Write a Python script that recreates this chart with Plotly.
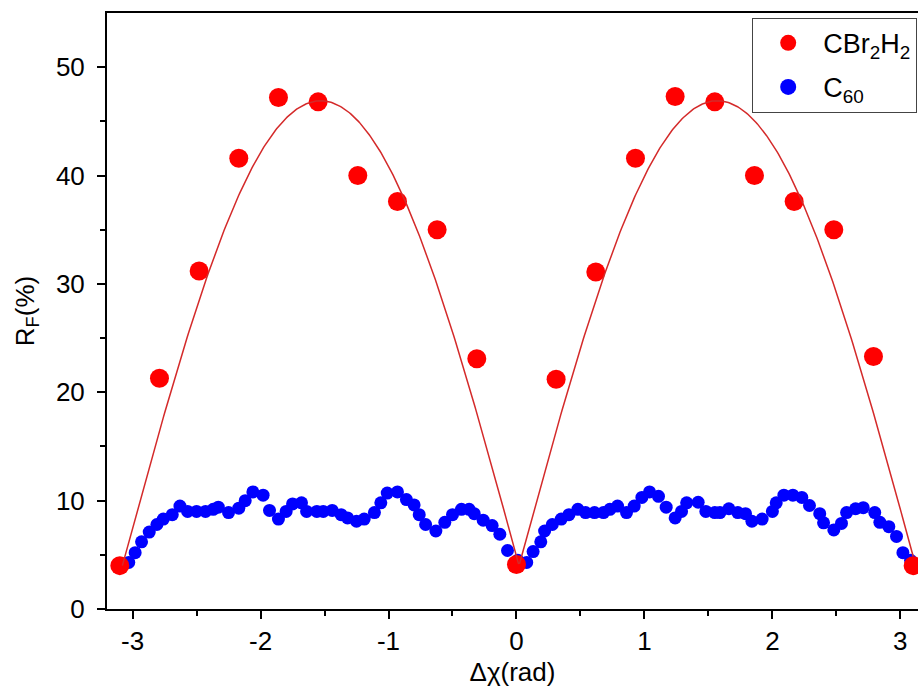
import numpy as np
import plotly.graph_objects as go

# CBr2H2 fluorescence ratio vs. relative phase
cbr_x = [-3.10, -2.79, -2.48, -2.17, -1.86, -1.55, -1.24, -0.93, -0.62, -0.31, 0.0,
         0.31, 0.62, 0.93, 1.24, 1.55, 1.86, 2.17, 2.48, 2.79, 3.10]
cbr_y = [4.0, 21.3, 31.2, 41.6, 47.2, 46.8, 40.0, 37.6, 35.0, 23.1, 4.1,
         21.2, 31.1, 41.6, 47.3, 46.8, 40.0, 37.6, 35.0, 23.3, 4.0]

# C60 fluorescence ratio vs. relative phase
c60_x = [-3.03, -2.98, -2.93, -2.87, -2.81, -2.76, -2.69, -2.63, -2.57, -2.50,
         -2.43, -2.37, -2.33, -2.25, -2.17, -2.12, -2.06, -1.98, -1.93, -1.86,
         -1.80, -1.75, -1.68, -1.64, -1.56, -1.51, -1.44, -1.37, -1.32, -1.25,
         -1.19, -1.11, -1.06, -1.01, -0.93, -0.86, -0.80, -0.76, -0.71, -0.63,
         -0.56, -0.50, -0.43, -0.37, -0.33, -0.26, -0.19, -0.13, -0.07, 0.01,
         0.08, 0.13, 0.19, 0.22, 0.28, 0.35, 0.41, 0.48, 0.54, 0.61,
         0.68, 0.73, 0.79, 0.86, 0.92, 0.98, 1.04, 1.11, 1.17, 1.24,
         1.29, 1.33, 1.42, 1.48, 1.55, 1.59, 1.66, 1.73, 1.79, 1.84,
         1.92, 2.00, 2.03, 2.09, 2.16, 2.23, 2.29, 2.37, 2.40, 2.48,
         2.54, 2.58, 2.65, 2.71, 2.80, 2.84, 2.91, 2.97, 3.02, 3.08]
c60_y = [4.3, 5.2, 6.2, 7.1, 7.8, 8.3, 8.7, 9.5, 9.0, 9.0,
         9.0, 9.2, 9.4, 8.9, 9.3, 10.0, 10.8, 10.5, 9.1, 8.3,
         9.0, 9.7, 9.8, 9.0, 9.0, 9.0, 9.1, 8.7, 8.4, 8.1,
         8.3, 8.9, 9.8, 10.7, 10.8, 10.1, 9.6, 8.7, 7.8, 7.2,
         8.0, 8.7, 9.2, 9.2, 8.8, 8.2, 7.7, 6.9, 5.4, 4.5,
         4.3, 5.3, 6.2, 7.2, 7.8, 8.3, 8.7, 9.2, 8.9, 8.9,
         8.9, 9.2, 9.5, 8.9, 9.5, 10.3, 10.8, 10.4, 9.4, 8.4,
         9.0, 9.8, 9.85, 9.0, 8.9, 8.9, 9.25, 8.9, 8.8, 8.1,
         8.3, 9.0, 9.8, 10.5, 10.5, 10.3, 9.55, 8.8, 7.95, 7.3,
         7.9, 8.9, 9.25, 9.35, 8.9, 8.0, 7.6, 6.7, 5.2, 4.5]

# |sin| model fitted to the CBr2H2 data
FIT_OFFSET = 4.0
FIT_AMP = 42.9
FIT_HALF_PERIOD = 3.10
FIT_SHIFT = 0.02
fit_x = np.linspace(-3.08, 3.10, 600)
fit_y = FIT_OFFSET + FIT_AMP * np.abs(np.sin(np.pi * (fit_x - FIT_SHIFT) / FIT_HALF_PERIOD))

FONT = "Liberation Sans, Arial, sans-serif"
RED = "#ff0000"
BLUE = "#0000ff"

fig = go.Figure()
fig.add_trace(go.Scatter(
    x=c60_x, y=c60_y, mode="markers", showlegend=False,
    marker=dict(color=BLUE, size=13, line=dict(width=0)),
))
fig.add_trace(go.Scatter(
    x=cbr_x, y=cbr_y, mode="markers", showlegend=False,
    marker=dict(color=RED, size=19, line=dict(width=0)),
))
fig.add_trace(go.Scatter(
    x=fit_x, y=fit_y, mode="lines", showlegend=False,
    line=dict(color="#d42a2a", width=1.5),
))
# legend entries with uniform symbol size
fig.add_trace(go.Scatter(
    x=[None], y=[None], mode="markers", name="CBr<sub>2</sub>H<sub>2</sub>",
    legendgroup="a", legendrank=1, marker=dict(color=RED, size=18),
))
fig.add_trace(go.Scatter(
    x=[None], y=[None], mode="markers", name="C<sub>60</sub>",
    legendgroup="b", legendrank=2, marker=dict(color=BLUE, size=18),
))

axis_common = dict(
    showgrid=False, zeroline=False, showline=True, linecolor="black", linewidth=2,
    ticks="outside", tickcolor="black", tickwidth=2, ticklen=8,
    tickfont=dict(family=FONT, size=26, color="black"),
)

fig.update_xaxes(
    **axis_common, range=[-3.2, 3.138], tickmode="array",
    tickvals=[-3, -2, -1, 0, 1, 2, 3], ticktext=["-3", "-2", "-1", "0", "1", "2", "3"],
    minor=dict(ticks="outside", tickvals=[-2.5, -1.5, -0.5, 0.5, 1.5, 2.5],
               ticklen=5, tickwidth=2, tickcolor="black"),
    mirror=True,
    title=dict(text="Δχ(rad)",
               font=dict(family=FONT, size=26, color="black"), standoff=8),
)
fig.update_yaxes(
    **axis_common, range=[0, 55], tickmode="array",
    tickvals=[0, 10, 20, 30, 40, 50],
    minor=dict(ticks="outside", tickvals=[5, 15, 25, 35, 45],
               ticklen=5, tickwidth=2, tickcolor="black"),
    mirror=False, ticklabelstandoff=7,
    title=dict(text="R<sub>F</sub>(%)", font=dict(family=FONT, size=26, color="black"),
               standoff=14),
)

fig.update_layout(
    width=918, height=691,
    margin=dict(l=107, r=0, t=13, b=82),
    paper_bgcolor="white", plot_bgcolor="white",
    font=dict(family=FONT, color="black"),
    legend=dict(
        x=0.999, xanchor="right", y=0.992, yanchor="top",
        bgcolor="white", bordercolor="#444", borderwidth=1,
        font=dict(family=FONT, size=27, color="black"),
        itemsizing="trace", itemwidth=60, tracegroupgap=6,
    ),
)

fig.write_html("out.html")
